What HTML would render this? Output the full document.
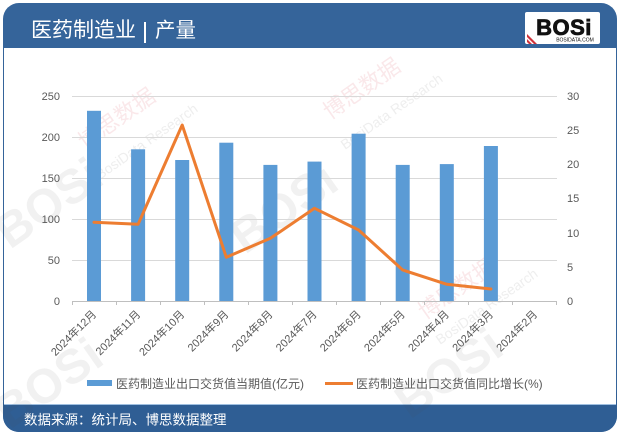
<!DOCTYPE html>
<html><head><meta charset="utf-8">
<style>
html,body{margin:0;padding:0;background:#fff;}
svg{display:block;font-family:"Liberation Sans","Noto Sans CJK SC",sans-serif;}
</style></head>
<body>
<svg width="621" height="435" viewBox="0 0 621 435" xmlns="http://www.w3.org/2000/svg">
  <!-- frame -->
  <rect x="3" y="3" width="614" height="429" rx="16" ry="16" fill="#35649a"/>
  <rect x="3" y="380" width="614" height="52" rx="16" ry="16" fill="#2f5e94"/>
  <rect x="4" y="48" width="612" height="357" fill="#ffffff"/>
  <line x1="4" y1="404.5" x2="616" y2="404.5" stroke="#9fbfe0" stroke-width="1"/>

  <!-- title -->
  <text x="31" y="37" font-size="21" fill="#ffffff" font-family="'Noto Sans CJK SC',sans-serif">医药制造业</text>
  <rect x="144" y="22" width="2" height="21" fill="#ffffff"/>
  <text x="155" y="37" font-size="20.5" fill="#ffffff" font-family="'Noto Sans CJK SC',sans-serif">产量</text>

  <!-- logo -->
  <rect x="525" y="12" width="75" height="32" rx="2" fill="#ffffff"/>
  <text x="564" y="35" font-size="22" font-weight="bold" fill="#111" text-anchor="middle" font-family="'Liberation Sans',sans-serif" stroke="#111" stroke-width="0.8" letter-spacing="0.5">BOSi</text>
  <text x="575" y="41.5" font-size="5" fill="#111" text-anchor="middle" font-family="'Liberation Sans',sans-serif">BOSIDATA.COM</text>
  <path d="M527 34 L537 44 L534 44 L527 37 Z M527 39 L532 44 L529 44 L527 42 Z" fill="#d0323a"/>

  <!-- watermarks -->
  <g opacity="0.08" font-weight="bold">
    <text x="0" y="0" font-size="48" fill="#555" transform="translate(10,250) rotate(-35)">BOSi</text>
    <text x="0" y="0" font-size="48" fill="#555" transform="translate(245,255) rotate(-35)">BOSi</text>
    <text x="0" y="0" font-size="48" fill="#555" transform="translate(410,420) rotate(-35)">BOSi</text>
    <text x="0" y="0" font-size="48" fill="#555" transform="translate(10,430) rotate(-35)">BOSi</text>
  </g>
  <g opacity="0.11">
    <text font-size="22" fill="#d03040" transform="translate(85,150) rotate(-35)" font-family="'Noto Sans CJK SC',sans-serif">博思数据</text>
    <text font-size="22" fill="#d03040" transform="translate(330,120) rotate(-35)" font-family="'Noto Sans CJK SC',sans-serif">博思数据</text>
    <text font-size="22" fill="#d03040" transform="translate(425,320) rotate(-35)" font-family="'Noto Sans CJK SC',sans-serif">博思数据</text>
    <text font-size="14" fill="#666" transform="translate(100,180) rotate(-35)">BosiData Research</text>
    <text font-size="14" fill="#666" transform="translate(345,150) rotate(-35)">BosiData Research</text>
    <text font-size="14" fill="#666" transform="translate(440,345) rotate(-35)">BosiData Research</text>
  </g>

  <!-- gridlines -->
  <g stroke="#d9d9d9" stroke-width="1">
    <line x1="72" y1="96.5" x2="557" y2="96.5"/>
    <line x1="72" y1="137.5" x2="557" y2="137.5"/>
    <line x1="72" y1="178.5" x2="557" y2="178.5"/>
    <line x1="72" y1="219.5" x2="557" y2="219.5"/>
    <line x1="72" y1="260.5" x2="557" y2="260.5"/>
  </g>
  <line x1="72" y1="301.5" x2="557" y2="301.5" stroke="#bfbfbf" stroke-width="1"/>
  <g stroke="#bfbfbf" stroke-width="1">
    <line x1="72.5" y1="301" x2="72.5" y2="305"/>
    <line x1="116.5" y1="301" x2="116.5" y2="305"/>
    <line x1="160.5" y1="301" x2="160.5" y2="305"/>
    <line x1="204.5" y1="301" x2="204.5" y2="305"/>
    <line x1="248.5" y1="301" x2="248.5" y2="305"/>
    <line x1="292.5" y1="301" x2="292.5" y2="305"/>
    <line x1="336.5" y1="301" x2="336.5" y2="305"/>
    <line x1="380.5" y1="301" x2="380.5" y2="305"/>
    <line x1="424.5" y1="301" x2="424.5" y2="305"/>
    <line x1="468.5" y1="301" x2="468.5" y2="305"/>
    <line x1="512.5" y1="301" x2="512.5" y2="305"/>
    <line x1="556.5" y1="301" x2="556.5" y2="305"/>
  </g>

  <!-- left axis labels -->
  <g font-size="11" fill="#595959" text-anchor="end">
    <text x="60" y="100">250</text>
    <text x="60" y="141">200</text>
    <text x="60" y="182">150</text>
    <text x="60" y="223">100</text>
    <text x="60" y="264">50</text>
    <text x="60" y="305">0</text>
  </g>
  <!-- right axis labels -->
  <g font-size="11" fill="#595959">
    <text x="567" y="100">30</text>
    <text x="567" y="134">25</text>
    <text x="567" y="168">20</text>
    <text x="567" y="202">15</text>
    <text x="567" y="237">10</text>
    <text x="567" y="271">5</text>
    <text x="567" y="305">0</text>
  </g>

  <!-- bars -->
  <g fill="#5b9bd5">
    <rect x="87" y="110.8" width="14" height="190.2"/>
    <rect x="131.1" y="149.3" width="14" height="151.7"/>
    <rect x="175.2" y="160" width="14" height="141"/>
    <rect x="219.3" y="142.7" width="14" height="158.3"/>
    <rect x="263.4" y="164.9" width="14" height="136.1"/>
    <rect x="307.5" y="161.6" width="14" height="139.4"/>
    <rect x="351.6" y="133.7" width="14" height="167.3"/>
    <rect x="395.7" y="164.9" width="14" height="136.1"/>
    <rect x="439.8" y="164.1" width="14" height="136.9"/>
    <rect x="483.9" y="146" width="14" height="155"/>
  </g>

  <!-- line -->
  <polyline fill="none" stroke="#ed7d31" stroke-width="3" stroke-linejoin="round" stroke-linecap="round"
    points="94,222.3 138.1,224.3 182.2,125 226.3,257.3 270.4,238.3 314.5,208.3 358.6,230 402.7,270 446.8,284.3 490.9,289"/>

  <!-- x labels -->
  <g font-size="11" fill="#595959" text-anchor="end">
    <text transform="translate(97,315) rotate(-45)">2024年12月</text>
    <text transform="translate(141.1,315) rotate(-45)">2024年11月</text>
    <text transform="translate(185.2,315) rotate(-45)">2024年10月</text>
    <text transform="translate(229.3,315) rotate(-45)">2024年9月</text>
    <text transform="translate(273.4,315) rotate(-45)">2024年8月</text>
    <text transform="translate(317.5,315) rotate(-45)">2024年7月</text>
    <text transform="translate(361.6,315) rotate(-45)">2024年6月</text>
    <text transform="translate(405.7,315) rotate(-45)">2024年5月</text>
    <text transform="translate(449.8,315) rotate(-45)">2024年4月</text>
    <text transform="translate(493.9,315) rotate(-45)">2024年3月</text>
    <text transform="translate(538,315) rotate(-45)">2024年2月</text>
  </g>

  <!-- legend -->
  <rect x="87" y="380" width="25" height="6" fill="#5b9bd5"/>
  <text x="116" y="388" font-size="12" fill="#595959">医药制造业出口交货值当期值(亿元)</text>
  <line x1="325" y1="383.5" x2="353" y2="383.5" stroke="#ed7d31" stroke-width="3"/>
  <text x="356" y="388" font-size="12" fill="#595959">医药制造业出口交货值同比增长(%)</text>

  <!-- footer -->
  <text x="24" y="424.5" font-size="13.5" fill="#ffffff" font-family="'Noto Sans CJK SC',sans-serif">数据来源：统计局、博思数据整理</text>
</svg>
</body></html>
